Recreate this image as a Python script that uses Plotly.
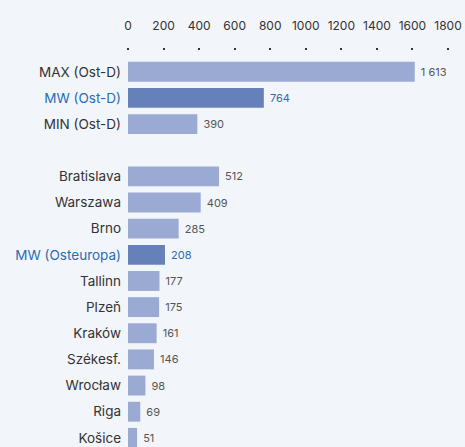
import plotly.graph_objects as go

categories = ["MAX (Ost-D)", "MW (Ost-D)", "MIN (Ost-D)", " ",
              "Bratislava", "Warszawa", "Brno", "MW (Osteuropa)", "Tallinn",
              "Plzeň", "Kraków", "Székesf.", "Wrocław", "Riga", "Košice"]
values = [1613, 764, 390, None, 512, 409, 285, 208, 177, 175, 161, 146, 98, 69, 51]
highlight = ["MW (Ost-D)", "MW (Osteuropa)"]
tick_values = [0, 200, 400, 600, 800, 1000, 1200, 1400, 1600, 1800]

BG = "#f2f5fa"
LIGHT = "#9aaad3"
DARK = "#6680ba"
BLUE_TXT = "#2b6cb3"
GRAY_TXT = "#555555"
LABEL_TXT = "#333333"
FONT = "Inter"


def fmt(v):
    if v is None:
        return ""
    return " " + f"{v:,}".replace(",", " ")


bar_colors = [DARK if c in highlight else LIGHT for c in categories]
text_colors = [BLUE_TXT if c in highlight else GRAY_TXT for c in categories]
ticktext = [f"<span style='color:{BLUE_TXT}'>{c}</span>" if c in highlight else c
            for c in categories]

fig = go.Figure(go.Bar(
    x=values, y=categories, orientation="h",
    marker=dict(color=bar_colors, line=dict(width=0)),
    width=0.76,
    text=[fmt(v) for v in values],
    textposition="outside",
    textfont=dict(size=11, color=text_colors, family=FONT),
    cliponaxis=False,
    hoverinfo="skip",
))

fig.update_layout(
    width=465, height=447,
    margin=dict(l=128, r=17, t=51, b=0),
    paper_bgcolor=BG, plot_bgcolor=BG,
    font=dict(family=FONT, color=LABEL_TXT, size=13),
    showlegend=False,
    xaxis=dict(
        side="top", range=[0, 1800], tickvals=tick_values,
        showgrid=False, zeroline=False, showline=False,
        ticks="outside", ticklen=2, tickwidth=2, tickcolor="#333333",
        ticklabelstandoff=13,
        tickfont=dict(size=12, color=LABEL_TXT),
    ),
    yaxis=dict(
        type="category", categoryorder="array", categoryarray=categories,
        tickvals=categories, ticktext=ticktext,
        range=[14.35, -0.795],
        showgrid=False, zeroline=False, showline=False,
        ticks="", ticklabelstandoff=6,
        tickfont=dict(size=13.5, color=LABEL_TXT),
    ),
)

fig.write_html(
    "out.html",
    config={"displayModeBar": False},
    post_script="document.body.style.margin='0';"
                "document.body.style.background='%s';"
                "document.body.style.overflow='hidden';" % BG,
)
